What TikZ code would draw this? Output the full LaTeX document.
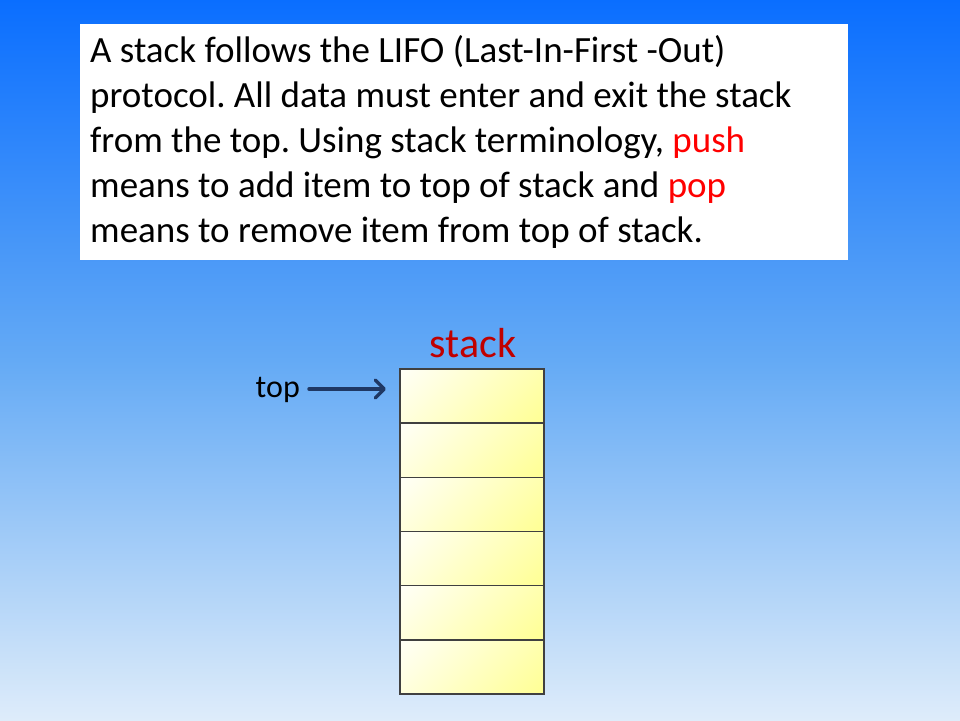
\documentclass[tikz,border=0pt]{standalone}
\usepackage{fontspec}
\setmainfont{Carlito}
\usetikzlibrary{arrows.meta}
\definecolor{bgtop}{RGB}{10,110,255}
\definecolor{bgmid}{RGB}{100,170,245}
\definecolor{bgbot}{RGB}{222,236,250}
\definecolor{cellyel}{RGB}{255,255,140}
\definecolor{stackred}{RGB}{192,0,0}
\definecolor{arrowblue}{RGB}{31,56,100}
\begin{document}
\frenchspacing
\begin{tikzpicture}[x=1pt,y=-1pt,
  cell/.style={draw=black!75,line width=1.6pt,
    path picture={\shade[top color=white,bottom color=cellyel,shading angle=45]
      (path picture bounding box.center) circle (80pt);}},
  bodytext/.style={font=\fontsize{37}{45}\selectfont,anchor=base west,inner sep=0pt}]
\useasboundingbox (0,0) rectangle (960,720);
\shade[top color=bgtop,bottom color=bgbot,middle color=bgmid] (0,0) rectangle (960,720);
\node[fill=white,minimum width=768pt,minimum height=236pt,anchor=north west,inner sep=0pt] (box) at (80,24) {};
\node[bodytext] (l1) at (90,62) {A stack follows the LIFO (Last-In-First -Out)};
\node[bodytext] (l2) at (90,107) {protocol. All data must enter and exit the stack};
\node[bodytext] (l3) at (90,152) {from the top. Using stack terminology, \textcolor{red}{push}};
\node[bodytext] (l4) at (90,197) {means to add item to top of stack and \textcolor{red}{pop}};
\node[bodytext] (l5) at (90,242) {means to remove item from top of stack.};
\foreach \i in {0,...,5}{
  \pgfmathsetmacro{\ya}{369+54.17*\i}
  \pgfmathsetmacro{\yb}{369+54.17*(\i+1)}
  \draw[cell] (400,\ya) rectangle (544,\yb);
}
\node[font=\fontsize{42}{44}\selectfont,text=stackred,anchor=base,inner sep=0pt] (lbl) at (473,357) {stack};
\node[font=\fontsize{32}{34}\selectfont,anchor=base east,inner sep=0pt] (top) at (300,397) {top};
\coordinate (as) at (309,389);
\coordinate (ae) at (386,389);
\draw[arrowblue,line width=3.5pt,line cap=round,-{Straight Barb[length=9pt,width=18pt,line cap=round,line join=round]}] (as) -- (ae);
\end{tikzpicture}
\end{document}
